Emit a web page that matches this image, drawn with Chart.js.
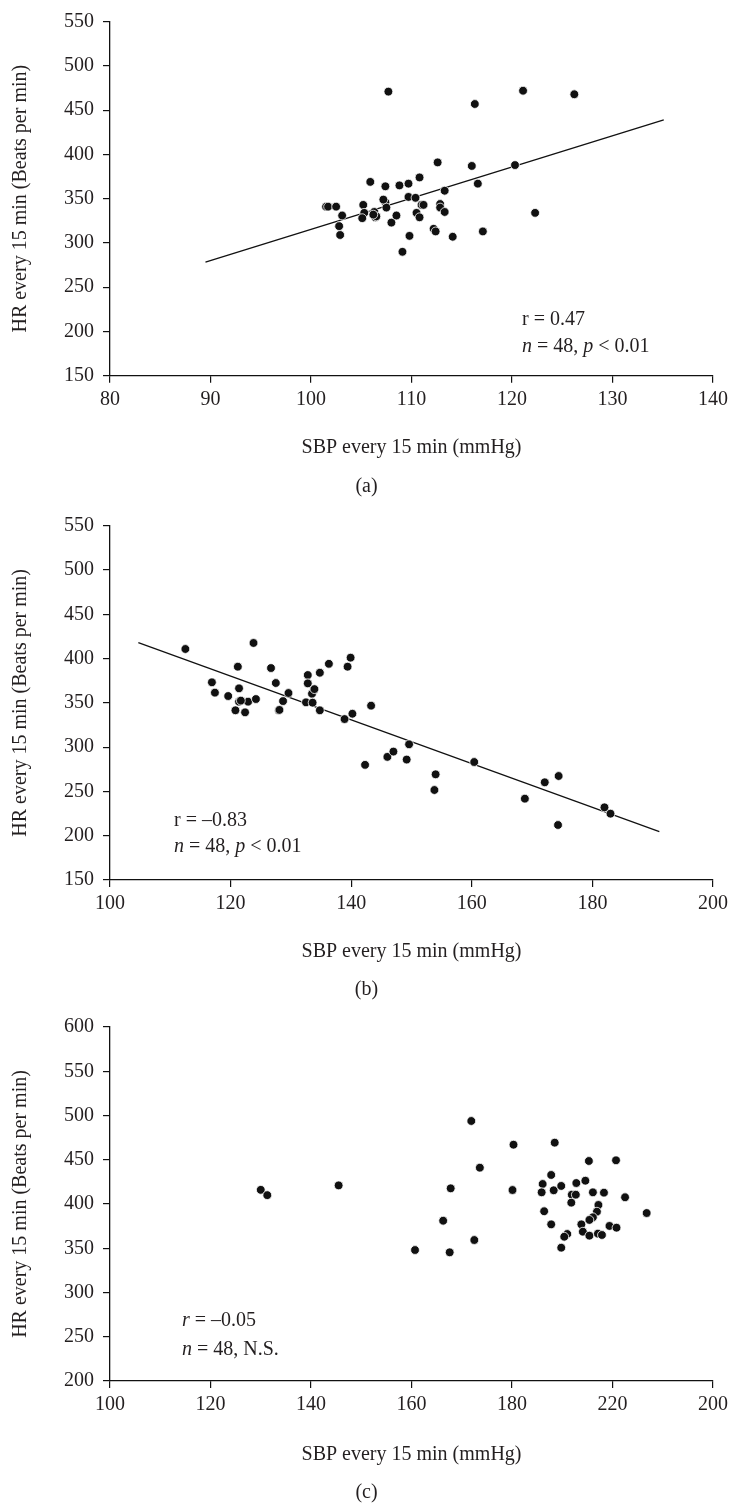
<!DOCTYPE html>
<html>
<head>
<meta charset="utf-8">
<script src="https://cdn.jsdelivr.net/npm/chart.js@4.4.1/dist/chart.umd.min.js"></script>
<style>
  body { margin: 0; background: #fff; }
  #wrap { position: relative; width: 733px; height: 1503px; }
  canvas { position: absolute; left: 0; }
</style>
</head>
<body>
<div id="wrap">
  <canvas id="chartA" width="733" height="500" style="top:0px"></canvas>
  <canvas id="chartB" width="733" height="500" style="top:500px"></canvas>
  <canvas id="chartC" width="733" height="503" style="top:1000px"></canvas>
</div>
<script>
// (a) SBP vs HR
const aSbp = [101.5,101.7,102.5,103.1,102.8,102.9,105.2,105.3,105.1,106.3,106.4,106.5,107.4,107.5,108.0,108.5,109.1,109.8,110.5,110.8,111.0,111.2,112.85,112.85,113.3,112.2,112.4,114.1,117.1,122.3,107.7,116.3,121.1,126.2,105.9,107.4,108.8,109.7,110.8,112.6,116.0,116.6,120.3,113.3,109.7,110.4,106.2,107.2];
const aHr  = [341,341,341,331,319,309,343,334,328,335,329,330,346,340,323,331,290,308,334,329,343,343,344,340,335,316,313,307,313,334,471,457,472,468,369,364,365,367,374,391,387,367,388,359,352,351,332,349];
const aFitX = [89.5, 135.1];
const aFitY = [278.4, 439];

// (b)
const bSbp = [112.5,123.8,121.2,126.7,116.9,117.4,119.6,121.4,121.4,122.9,124.2,120.8,122.4,127.5,129.6,128.7,128.0,132.8,132.8,133.8,133.5,132.5,133.6,134.8,136.3,134.8,139.4,139.9,140.2,138.9,143.3,142.3,146.0,147.0,149.2,149.6,154.0,153.8,160.4,168.8,172.1,174.4,174.3,182.0,183.0,133.9,121.7,128.1];
const bHr  = [410.8,417.6,390.8,389.3,373.2,361.5,357.7,366.4,351.3,351.3,354.3,341.6,339.3,372.4,361.1,352,341.6,381.4,372,364.2,360.3,350.6,350.2,384,394.1,341.6,390.8,401,337.7,331.7,346.8,280,289,295,286,303.2,269.3,251.6,283.2,241.8,260.3,267.4,212.1,232,224.9,365.5,352.5,342];
const bFitX = [104.7, 191.1];
const bFitY = [417.9, 204.5];

// (c)
const cSbp = [171.9,180.3,188.5,173.6,195.3,200.7,167.8,180.1,187.8,186.1,185.9,188.3,189.8,192.8,194.6,191.9,192.7,196.1,198.3,202.5,191.8,197.2,196.9,186.4,206.8,196.1,195.4,166.3,187.8,193.8,199.4,200.8,194.1,191.0,190.4,195.4,197.1,197.9,189.8,172.5,160.7,167.6,130.0,131.3,145.5];
const cHr  = [493.8,467,469.3,441,448.6,449.4,417.7,415.8,432.8,422.6,413.2,415.5,420.4,423.7,426.3,410.5,410.5,413.2,412.8,407.6,401.5,398.9,391.3,391.8,389.8,385,382,381.1,377,377,375.2,373.2,368.7,366.1,363,364.2,366.5,365,350.6,359.3,348,345.4,416,410,421];
// tick labels as printed in the figure
const cXTicks = ['100','120','140','160','180','220','200'];

const FONT = "'Liberation Serif', 'DejaVu Serif', serif";
const INK = '#231f20';

function pts(xs, ys) { return xs.map((x, i) => ({ x: x, y: ys[i] })); }

// draws runs of [text, italic] left to right
function runs(ctx, parts, x, y) {
  parts.forEach(([t, it]) => {
    ctx.font = (it ? 'italic ' : '') + '20px ' + FONT;
    ctx.fillText(t, x, y);
    x += ctx.measureText(t).width;
  });
}

function makeChart(id, opt) {
  const canvasH = document.getElementById(id).height;
  const textPlugin = {
    id: 'texts',
    afterDraw(chart) {
      const ctx = chart.ctx;
      const ca = chart.chartArea;
      ctx.save();
      ctx.fillStyle = INK;
      ctx.textBaseline = 'middle';
      ctx.font = '20px ' + FONT;
      // x title
      ctx.textAlign = 'center';
      ctx.fillText('SBP every 15 min (mmHg)', (ca.left + ca.right) / 2, opt.xTitleY);
      ctx.fillText(opt.letter, 366.5, opt.letterY);
      // y title
      ctx.save();
      ctx.translate(21, (ca.top + ca.bottom) / 2);
      ctx.rotate(-Math.PI / 2);
      ctx.fillText('HR every 15 min (Beats per min)', 0, 0);
      ctx.restore();
      // stats
      ctx.textAlign = 'left';
      runs(ctx, opt.line1, opt.annX, opt.annY[0]);
      runs(ctx, opt.line2, opt.annX, opt.annY[1]);
      ctx.restore();
    }
  };

  const datasets = [{
    data: pts(opt.xs, opt.ys),
    backgroundColor: '#111',
    borderColor: '#fff',
    borderWidth: 0.8,
    pointRadius: 4.4,
    showLine: false
  }];
  if (opt.fitX) {
    datasets.push({
      data: pts(opt.fitX, opt.fitY),
      showLine: true,
      borderColor: '#111',
      borderWidth: 1.3,
      pointRadius: 0
    });
  }

  return new Chart(document.getElementById(id), {
    type: 'scatter',
    data: { datasets: datasets },
    options: {
      responsive: false,
      animation: false,
      layout: { padding: { left: 0, right: 733 - 715, top: opt.top, bottom: 0 } },
      plugins: { legend: { display: false }, tooltip: { enabled: false } },
      scales: {
        x: {
          type: 'linear',
          min: opt.xMin, max: opt.xMax,
          afterFit(s) { s.height = canvasH - opt.bottom; },
          afterBuildTicks(s) {
            s.ticks = [];
            for (let v = opt.xMin; v <= opt.xMax + 1e-9; v += opt.xStep) s.ticks.push({ value: v });
          },
          ticks: {
            autoSkip: false, maxRotation: 0, padding: 5, color: INK,
            font: { family: FONT, size: 20 },
            callback: opt.xLabel || (v => v)
          },
          grid: { drawOnChartArea: false, drawTicks: true, tickLength: 7, color: '#111', lineWidth: 1.2 },
          border: { color: '#111', width: 1.3 }
        },
        y: {
          type: 'linear',
          min: opt.yMin, max: opt.yMax,
          afterFit(s) { s.width = 110; },
          ticks: {
            stepSize: 50, autoSkip: false, padding: 9, color: INK,
            font: { family: FONT, size: 20 }
          },
          grid: { drawOnChartArea: false, drawTicks: true, tickLength: 7, color: '#111', lineWidth: 1.2 },
          border: { color: '#111', width: 1.3 }
        }
      }
    },
    plugins: [textPlugin]
  });
}

makeChart('chartA', {
  xs: aSbp, ys: aHr, fitX: aFitX, fitY: aFitY,
  xMin: 80, xMax: 140, xStep: 10, yMin: 150, yMax: 550,
  top: 21.7, bottom: 375.7,
  xTitleY: 448, letter: '(a)', letterY: 487,
  annX: 522, annY: [320, 347],
  line1: [['r = 0.47', false]],
  line2: [['n', true], [' = 48, ', false], ['p', true], [' < 0.01', false]]
});

makeChart('chartB', {
  xs: bSbp, ys: bHr, fitX: bFitX, fitY: bFitY,
  xMin: 100, xMax: 200, xStep: 20, yMin: 150, yMax: 550,
  top: 25.7, bottom: 380,
  xTitleY: 451.7, letter: '(b)', letterY: 490,
  annX: 174, annY: [321, 347],
  line1: [['r = –0.83', false]],
  line2: [['n', true], [' = 48, ', false], ['p', true], [' < 0.01', false]]
});

makeChart('chartC', {
  xs: cSbp, ys: cHr,
  xMin: 100, xMax: 220, xStep: 20, yMin: 200, yMax: 600,
  top: 27, bottom: 381,
  xLabel: (v) => cXTicks[Math.round((v - 100) / 20)],
  xTitleY: 455, letter: '(c)', letterY: 493,
  annX: 182, annY: [321, 350],
  line1: [['r', true], [' = –0.05', false]],
  line2: [['n', true], [' = 48, N.S.', false]]
});
</script>
</body>
</html>
